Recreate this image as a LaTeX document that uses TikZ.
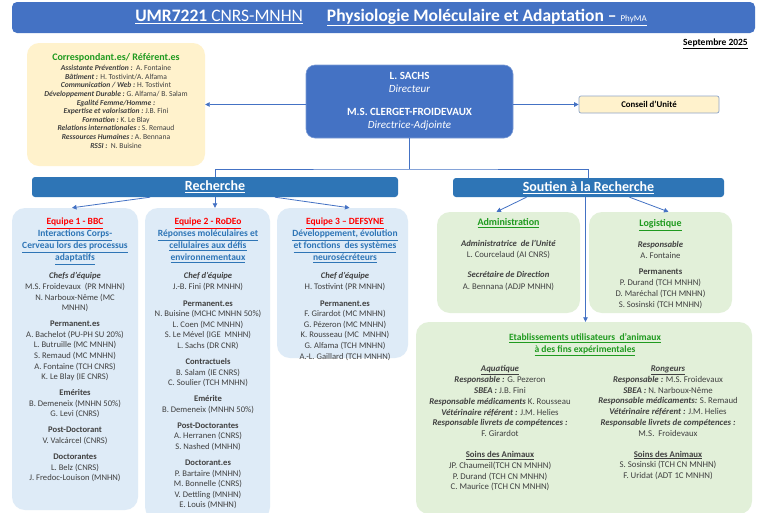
\documentclass[tikz,border=0pt]{standalone}
\usepackage{fontspec}
\setmainfont{Carlito}
\usetikzlibrary{arrows.meta}
\definecolor{bannerblue}{HTML}{4472C4}
\definecolor{barblue}{HTML}{2E75B6}
\definecolor{corrfill}{HTML}{FFF2CC}
\definecolor{eqfill}{HTML}{DEEBF7}
\definecolor{grfill}{HTML}{E2F0D9}
\definecolor{grtext}{HTML}{1F9A1F}
\definecolor{linkblue}{HTML}{2E75B6}
\definecolor{bodygray}{HTML}{404040}
\definecolor{linecol}{HTML}{4472C4}
\definecolor{consborder}{HTML}{8EA5C8}
\newcommand{\lab}[1]{\textbf{\textit{#1}}}
\newcommand{\myul}[1]{\underline{#1}}
\newcommand{\setfs}[2]{\fontsize{#1}{#2}\selectfont}
\tikzset{
  banner/.style={fill=bannerblue, rounded corners=5pt, inner sep=0},
  dirbox/.style={fill=bannerblue, draw=bannerblue!70!white, line width=0.6pt, rounded corners=9pt, inner sep=0, text=white, align=center, font=\setfs{11}{13}},
  consbox/.style={fill=corrfill, draw=consborder, line width=0.7pt, rounded corners=2pt, inner sep=0, font=\bfseries\setfs{8.8}{10}},
  corrbox/.style={fill=corrfill, rounded corners=12pt, inner sep=0},
  eqbox/.style={fill=eqfill, rounded corners=13pt, inner sep=0},
  grbox/.style={fill=grfill, rounded corners=13pt, inner sep=0},
  bar/.style={fill=barblue, rounded corners=3pt, inner sep=0, text=white, font=\bfseries\setfs{14}{16}},
  txt/.style={inner sep=0, align=center, text=bodygray, anchor=north},
  conn/.style={draw=linecol, line width=0.8pt},
  arr/.style={conn, -{Triangle[length=4.5pt,width=4.5pt]}},
}
\begin{document}
\begin{tikzpicture}[x=1pt,y=-1pt]
\useasboundingbox (0,0) rectangle (768,512);
\fill[white] (0,0) rectangle (768,512);

% banner
\node[banner, minimum width=743, minimum height=31] (ban) at (383.5,17.5) {};
\node[inner sep=0, text=white, font=\setfs{17.5}{19}] (bant) at (391,17.5)
  {\myul{\textbf{UMR7221} CNRS-MNHN}\hspace{24pt}\myul{\textbf{Physiologie Moléculaire et Adaptation –} {\setfs{9}{10}PhyMA}}};
\node[inner sep=0, anchor=east, font=\bfseries\setfs{9.5}{11}] (date) at (748,44) {\myul{Septembre 2025}};

% correspondants
\node[corrbox, minimum width=178, minimum height=123] (corr) at (116,104.5) {};
\node[txt, text=grtext, font=\bfseries\setfs{10}{11}] (corrt) at (116,53) {Correspondant.es/ Référent.es};
\node[txt, font=\setfs{7.6}{8.6}] (corrb) at (116,65.2) {%
\lab{Assistante Prévention :}\ \ A. Fontaine\\
\lab{Bâtiment :} H. Tostivint/A. Alfama\\
\lab{Communication / Web :}\ H. Tostivint\\
\lab{Développement Durable :}\ G. Alfama/ B. Salam\\
\lab{Egalité Femme/Homme :}\hspace*{42pt}\\
\lab{Expertise et valorisation :}\ J.B. Fini\hspace*{6pt}\\
\lab{Formation :}\ K. Le Blay\\
\lab{Relations internationales :}\ S. Remaud\hspace*{6pt}\\
\lab{Ressources Humaines :}\ A. Bennana\\
\lab{RSSI :}\ \ N. Buisine};

% direction
\node[dirbox, minimum width=207, minimum height=73] (dir) at (409.5,101.5)
  {\textbf{L. SACHS}\\ \textit{Directeur}\\[10pt] \textbf{M.S. CLERGET-FROIDEVAUX}\\ \textit{Directrice-Adjointe}};
\node[consbox, minimum width=140, minimum height=17] (cons) at (649,104.5) {Conseil d’Unité};

% bars
\node[bar, minimum width=366, minimum height=20] (rech) at (215,187) {\myul{Recherche}};
\node[bar, minimum width=271, minimum height=19] (sout) at (588.5,187.5) {\myul{Soutien à la Recherche}};

% equipes
\node[eqbox, minimum width=126, minimum height=302] (eq1) at (75,359) {};
\node[eqbox, minimum width=125, minimum height=312] (eq2) at (207.5,364) {};
\node[eqbox, minimum width=131, minimum height=150] (eq3) at (342.5,283) {};

\node[txt, font=\bfseries\setfs{9.5}{12}] (eq1t) at (75,218) {%
\textcolor{red}{\myul{Equipe 1 - BBC}}\\
\textcolor{linkblue}{\myul{Interactions Corps-}}\\
\textcolor{linkblue}{\myul{Cerveau lors des processus}}\\
\textcolor{linkblue}{\myul{adaptatifs}}};
\node[txt, font=\setfs{8.6}{10.6}] (eq1b) at (75,272.5) {%
\lab{Chefs d’équipe}\\
M.S. Froidevaux\ \ (PR MNHN)\\
N. Narboux-Nême (MC\\
MNHN)\\[5.4pt]
\textbf{Permanent.es}\\
A. Bachelot (PU-PH SU 20\%)\\
L. Butruille (MC MNHN)\\
S. Remaud (MC MNHN)\\
A. Fontaine (TCH CNRS)\\
K. Le Blay (IE CNRS)\\[5.4pt]
\textbf{Emérites}\\
B. Demeneix (MNHN 50\%)\\
G. Levi (CNRS)\\[5.4pt]
\textbf{Post-Doctorant}\\
V. Valcárcel (CNRS)\\[5.4pt]
\textbf{Doctorantes}\\
L. Belz (CNRS)\\
J. Fredoc-Louison (MNHN)};

\node[txt, font=\bfseries\setfs{9.5}{12}] (eq2t) at (208,218) {%
\textcolor{red}{\myul{Equipe 2 - RoDEo}}\\
\textcolor{linkblue}{\myul{Réponses moléculaires et}}\\
\textcolor{linkblue}{\myul{cellulaires aux défis}}\\
\textcolor{linkblue}{\myul{environnementaux}}};
\node[txt, font=\setfs{8.6}{10.6}] (eq2b) at (208,272.5) {%
\lab{Chef d’équipe}\\
J.-B. Fini (PR MNHN)\\[6pt]
\textbf{Permanent.es}\\
N. Buisine (MCHC MNHN 50\%)\\
L. Coen (MC MNHN)\\
S. Le Mével (IGE\ \ MNHN)\\
L. Sachs (DR CNR)\\[5.4pt]
\textbf{Contractuels}\\
B. Salam (IE CNRS)\\
C. Soulier (TCH MNHN)\\[5.4pt]
\textbf{Emérite}\\
B. Demeneix (MNHN 50\%)\\[5.4pt]
\textbf{Post-Doctorantes}\\
A. Herranen (CNRS)\\
S. Nashed (MNHN)\\[5.4pt]
\textbf{Doctorant.es}\\
P. Bartaire (MNHN)\\
M. Bonnelle (CNRS)\\
V. Dettling (MNHN)\\
E. Louis (MNHN)};

\node[txt, font=\bfseries\setfs{9.5}{12}] (eq3t) at (345,218) {%
\textcolor{red}{\myul{Equipe 3 – DEFSYNE}}\\
\textcolor{linkblue}{\myul{Développement, évolution}}\\
\textcolor{linkblue}{\myul{et fonctions\ \ des systèmes}}\\
\textcolor{linkblue}{\myul{neurosécréteurs}}};
\node[txt, font=\setfs{8.6}{10.6}] (eq3b) at (345,272.5) {%
\lab{Chef d’équipe}\\
H. Tostivint (PR MNHN)\\[6pt]
\textbf{Permanent.es}\\
F. Girardot (MC MNHN)\\
G. Pézeron (MC MNHN)\\
K. Rousseau (MC\ \ MNHN)\\
G. Alfama (TCH MNHN)\\
A.-L. Gaillard (TCH MNHN)};

% soutien
\node[grbox, minimum width=143, minimum height=101] (adm) at (508.5,262.5) {};
\node[grbox, minimum width=143, minimum height=101] (logi) at (660.5,262.5) {};
\node[grbox, minimum width=336, minimum height=192] (etab) at (584,418) {};

\node[txt, text=grtext, font=\bfseries\setfs{10}{11}] (admt) at (508.5,218.5) {\myul{Administration}};
\node[txt, font=\setfs{8.7}{11.5}] (admb) at (508.5,240) {%
\lab{Administratrice\ \ de l’Unité}\\
L. Courcelaud (AI CNRS)\\[8.5pt]
\lab{Secrétaire de Direction}\\
A. Bennana (ADJP MNHN)};

\node[txt, text=grtext, font=\bfseries\setfs{10}{11}] (logt) at (660.5,219.5) {\myul{Logistique}};
\node[txt, font=\setfs{8.7}{11}] (logb) at (660.5,241) {%
\lab{Responsable}\\
A. Fontaine\\[5pt]
\textbf{Permanents}\\
P. Durand (TCH MNHN)\\
D. Maréchal (TCH MNHN)\\
S. Sosinski (TCH MNHN)};

\node[txt, text=grtext, font=\bfseries\setfs{9.6}{12}] (etabt) at (585,333.5) {%
\myul{Etablissements utilisateurs\ \ d’animaux}\\
\myul{à des fins expérimentales}};
\node[txt, font=\setfs{8.8}{10.8}] (aqua) at (500,365.5) {%
\lab{\myul{Aquatique}}\\
\lab{Responsable :} G. Pezeron\\
\lab{SBEA :} J.B. Fini\\
\lab{Responsable médicaments} K. Rousseau\\
\lab{Vétérinaire référent :} J.M. Helies\\
\lab{Responsable livrets de compétences :}\\
F. Girardot\\[10pt]
\textbf{\myul{Soins des Animaux}}\\
JP. Chaumeil(TCH CN MNHN)\\
P. Durand (TCH CN MNHN)\\
C. Maurice (TCH CN MNHN)};
\node[txt, font=\setfs{8.8}{10.8}] (rong) at (668,365.5) {%
\lab{\myul{Rongeurs}}\\
\lab{Responsable :} M.S. Froidevaux\\
\lab{SBEA :} N. Narboux-Nême\\
\lab{Responsable médicaments:} S. Remaud\\
\lab{Vétérinaire référent :} J.M. Helies\\
\lab{Responsable livrets de compétences :}\\
M.S.\ \ Froidevaux\\[10pt]
\textbf{\myul{Soins des Animaux}}\\
S. Sosinski (TCH CN MNHN)\\
F. Uridat (ADT 1C MNHN)};

% connectors
\coordinate (junc) at (409.5,169);
\draw[arr] (dir.west |- corr.east) -- (corr.east);
\draw[arr] (dir.east |- cons.west) -- (cons.west);
\draw[conn] (dir.south) -- (junc);
\draw[conn] (rech.north) |- (junc) -| (sout.north);
\draw[arr] ([xshift=-65pt]rech.south) -- ([xshift=-3pt]eq1.north);
\draw[arr] (rech.south) -- (rech.south |- eq2.north);
\draw[arr] ([xshift=60pt]rech.south) -- ([xshift=7pt]eq3.north);
\draw[arr] ([xshift=-62pt]sout.south) -- ([xshift=-12pt]adm.north);
\draw[arr] ([xshift=41pt]sout.south) -- ([xshift=8pt]logi.north);
\draw[arr] ([xshift=-3pt]sout.south) -- ([xshift=-3pt]sout.south |- etab.north);
\end{tikzpicture}
\end{document}
